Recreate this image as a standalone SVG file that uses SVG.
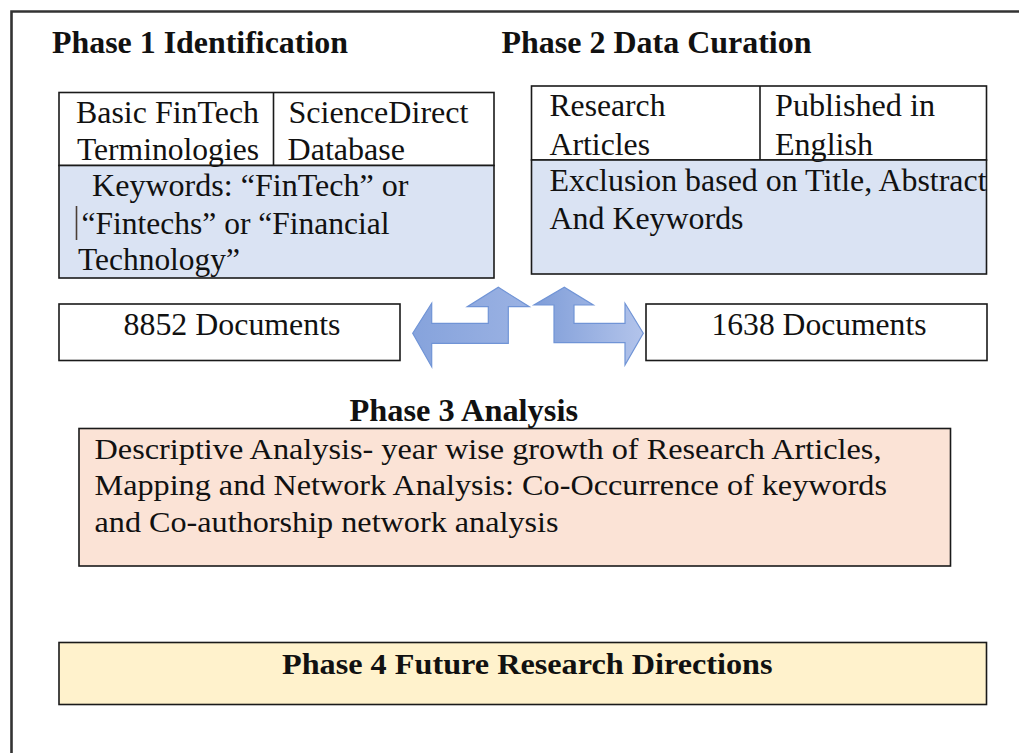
<svg xmlns="http://www.w3.org/2000/svg" width="1019" height="753" viewBox="0 0 1019 753">
  <style>
    .t { font-family: "Liberation Serif", "Times New Roman", serif; font-size: 31px; fill: #111; }
    .s { font-family: "Liberation Serif", "Times New Roman", serif; font-size: 29px; fill: #111; }
    .b { font-family: "Liberation Serif", "Times New Roman", serif; font-size: 32px; font-weight: bold; fill: #111; }
    .box { stroke: #1a1a1a; stroke-width: 1.6; }
    .white { fill: #ffffff; }
    .blue { fill: #dae3f3; }
    .peach { fill: #fbe3d6; }
    .yellow { fill: #fff2cc; }
    .arrow { stroke: #7094d6; stroke-width: 1.2; stroke-linejoin: miter; }
  </style>
  <defs>
    <linearGradient id="gL" x1="0" y1="0" x2="1" y2="0">
      <stop offset="0" stop-color="#86a3dc"/>
      <stop offset="1" stop-color="#9bb2e3"/>
    </linearGradient>
    <linearGradient id="gR" x1="0" y1="0" x2="1" y2="0">
      <stop offset="0" stop-color="#7f9dd8"/>
      <stop offset="1" stop-color="#b3c4eb"/>
    </linearGradient>
  </defs>

  <rect width="1019" height="753" fill="#ffffff"/>

  <!-- outer frame: top and left border only -->
  <g id="frame" fill="none" stroke="#333" stroke-width="2.6">
    <path d="M11.5 753 V11.5 H1019"/>
  </g>

  <!-- Phase 1 -->
  <g id="phase1-title">
    <text class="b" x="52" y="53" textLength="296" lengthAdjust="spacingAndGlyphs">Phase 1 Identification</text>
  </g>
  <g id="phase1-box">
    <rect class="box white" x="59" y="92.5" width="435" height="73"/>
    <rect class="box blue" x="59" y="165.5" width="435" height="112.5"/>
    <line class="box" x1="273.5" y1="92.5" x2="273.5" y2="165.5"/>
    <text class="t" x="76" y="123" textLength="183" lengthAdjust="spacingAndGlyphs">Basic FinTech</text>
    <text class="t" x="77" y="160" textLength="182" lengthAdjust="spacingAndGlyphs">Terminologies</text>
    <text class="t" x="288.5" y="123" textLength="180" lengthAdjust="spacingAndGlyphs">ScienceDirect</text>
    <text class="t" x="287.5" y="160" textLength="117.5" lengthAdjust="spacingAndGlyphs">Database</text>
    <text class="t" x="92" y="196" textLength="316.5" lengthAdjust="spacingAndGlyphs">Keywords: “FinTech” or</text>
    <line x1="76.5" y1="206" x2="76.5" y2="240" stroke="#4a3f36" stroke-width="1.6"/>
    <text class="t" x="81.5" y="234" textLength="308" lengthAdjust="spacingAndGlyphs">“Fintechs” or “Financial</text>
    <text class="t" x="78" y="270" textLength="162" lengthAdjust="spacingAndGlyphs">Technology”</text>
  </g>

  <!-- Phase 2 -->
  <g id="phase2-title">
    <text class="b" x="501.5" y="53" textLength="310" lengthAdjust="spacingAndGlyphs">Phase 2 Data Curation</text>
  </g>
  <g id="phase2-box">
    <rect class="box white" x="531.5" y="86" width="455" height="74"/>
    <rect class="box blue" x="531.5" y="160" width="455" height="114"/>
    <line class="box" x1="760" y1="86" x2="760" y2="160"/>
    <text class="t" x="549.5" y="116" textLength="116" lengthAdjust="spacingAndGlyphs">Research</text>
    <text class="t" x="549.5" y="155" textLength="100.5" lengthAdjust="spacingAndGlyphs">Articles</text>
    <text class="t" x="775" y="116" textLength="160" lengthAdjust="spacingAndGlyphs">Published in</text>
    <text class="t" x="775" y="155" textLength="98" lengthAdjust="spacingAndGlyphs">English</text>
    <text class="t" x="549.5" y="191" textLength="437" lengthAdjust="spacingAndGlyphs">Exclusion based on Title, Abstract</text>
    <text class="t" x="549.5" y="229" textLength="194" lengthAdjust="spacingAndGlyphs">And Keywords</text>
  </g>

  <!-- document counts -->
  <g id="docs-8852">
    <rect class="box white" x="59" y="304" width="341" height="56.5"/>
    <text class="t" x="123.5" y="335" textLength="217" lengthAdjust="spacingAndGlyphs">8852 Documents</text>
  </g>
  <g id="docs-1638">
    <rect class="box white" x="646" y="304" width="341" height="56.5"/>
    <text class="t" x="711.5" y="335" textLength="215" lengthAdjust="spacingAndGlyphs">1638 Documents</text>
  </g>

  <!-- bent block arrows between the phases -->
  <g id="connectors">
    <path class="arrow" fill="url(#gL)" d="M412.7 333.3 L431.7 303.3 V323.3 H488.3 V306.7 H467.3 L498.3 287.3 L529.3 306.7 H508.3 V343.3 H431.7 V366.7 Z"/>
    <path class="arrow" fill="url(#gR)" d="M643.3 333.3 L625 303.3 V323.3 H574 V305 H593.3 L564.3 287.3 L534 305 H554 V342.7 H625 V365 Z"/>
  </g>

  <!-- Phase 3 -->
  <g id="phase3-title">
    <text class="b" x="349.5" y="421" textLength="228.5" lengthAdjust="spacingAndGlyphs">Phase 3 Analysis</text>
  </g>
  <g id="phase3-box">
    <rect class="box peach" x="79" y="428.5" width="871.5" height="137.5"/>
    <text class="s" x="94.5" y="458.5" textLength="787" lengthAdjust="spacingAndGlyphs">Descriptive Analysis- year wise growth of Research Articles,</text>
    <text class="s" x="94.5" y="495" textLength="792.5" lengthAdjust="spacingAndGlyphs">Mapping and Network Analysis: Co-Occurrence of keywords</text>
    <text class="s" x="94.5" y="531.5" textLength="464" lengthAdjust="spacingAndGlyphs">and Co-authorship network analysis</text>
  </g>

  <!-- Phase 4 -->
  <g id="phase4-box">
    <rect class="box yellow" x="59" y="642.5" width="927.5" height="62"/>
    <text class="b" x="282" y="673.5" textLength="490.5" lengthAdjust="spacingAndGlyphs" style="font-size:30px">Phase 4 Future Research Directions</text>
  </g>
</svg>
